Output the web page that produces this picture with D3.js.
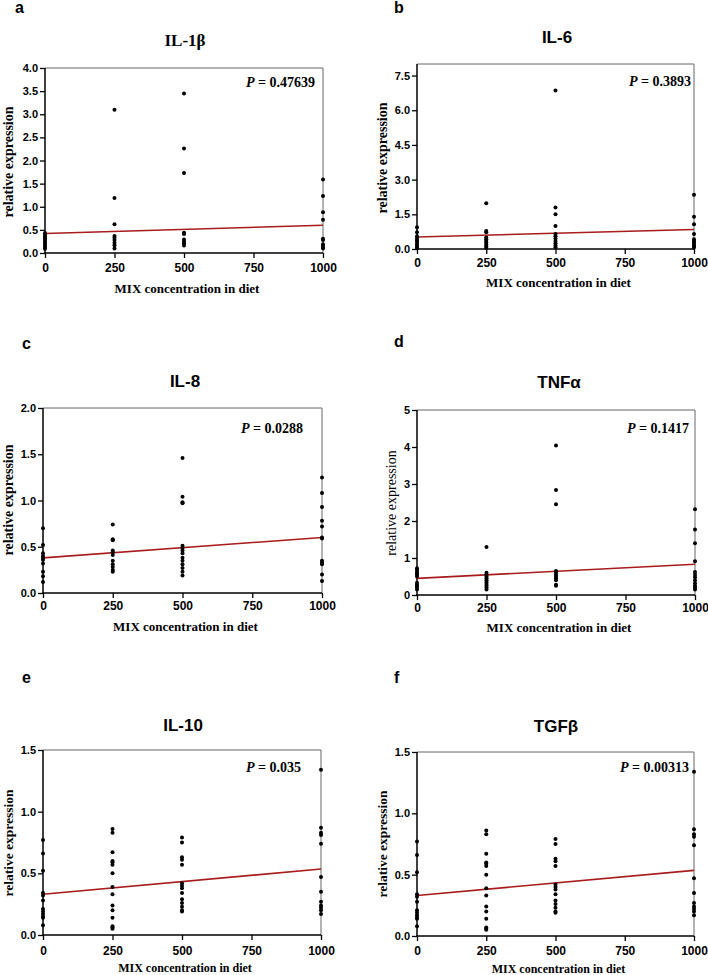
<!DOCTYPE html>
<html>
<head>
<meta charset="utf-8">
<script src="https://cdn.jsdelivr.net/npm/d3@7"></script>
<style>
  html, body { margin: 0; padding: 0; background: #fff; }
  svg { display: block; }
</style>
</head>
<body>
<svg id="chart" width="708" height="975"></svg>
<script>
// ---------------- DATA ----------------
const doses = [0, 250, 500, 1000];
const xTickValues = [0, 250, 500, 750, 1000];
const panelLetters = ["a", "b", "c", "d", "e", "f"];
const genes = ["IL-1β", "IL-6", "IL-8", "TNFα", "IL-10", "TGFβ"];
const pValues = ["0.47639", "0.3893", "0.0288", "0.1417", "0.035", "0.00313"];
const yMaxValues = [4, 8, 2, 5, 1.5, 1.5];
const yStepValues = [0.5, 1.5, 0.5, 1, 0.5, 0.5];
const yTickMaxValues = [4, 7.5, 2, 5, 1.5, 1.5];
// regression line values at dose 0 and dose 1000
const fitAt0 = [0.42, 0.52, 0.38, 0.45, 0.33, 0.33];
const fitAt1000 = [0.60, 0.84, 0.60, 0.83, 0.535, 0.535];

// relative expression per dose group (0, 250, 500, 1000)
const il1b = [
  [0.43, 0.40, 0.36, 0.32, 0.28, 0.24, 0.20, 0.16, 0.12, 0.09],
  [3.10, 1.19, 0.62, 0.37, 0.33, 0.28, 0.22, 0.17, 0.10],
  [3.45, 2.26, 1.73, 0.44, 0.41, 0.29, 0.25, 0.21, 0.16],
  [1.59, 1.23, 0.88, 0.72, 0.31, 0.28, 0.19, 0.15, 0.12, 0.10]
];
const il6 = [
  [0.94, 0.72, 0.55, 0.45, 0.38, 0.30, 0.22, 0.15, 0.08, 0.03],
  [1.98, 0.78, 0.72, 0.50, 0.42, 0.35, 0.28, 0.20, 0.12, 0.05],
  [6.85, 1.80, 1.50, 1.00, 0.65, 0.55, 0.45, 0.35, 0.25, 0.15, 0.08],
  [2.35, 1.40, 1.07, 0.65, 0.42, 0.35, 0.28, 0.20, 0.12, 0.06]
];
const il8 = [
  [0.70, 0.52, 0.43, 0.40, 0.38, 0.36, 0.32, 0.23, 0.18, 0.12],
  [0.74, 0.58, 0.57, 0.46, 0.44, 0.41, 0.35, 0.31, 0.28, 0.25, 0.23],
  [1.46, 1.04, 0.98, 0.97, 0.51, 0.49, 0.46, 0.43, 0.38, 0.35, 0.31, 0.27, 0.23, 0.19],
  [1.25, 1.08, 0.93, 0.78, 0.72, 0.60, 0.59, 0.35, 0.33, 0.31, 0.20, 0.13]
];
const tnfa = [
  [0.72, 0.68, 0.62, 0.58, 0.55, 0.50, 0.33, 0.28, 0.25, 0.20, 0.15],
  [1.30, 0.60, 0.55, 0.50, 0.45, 0.40, 0.35, 0.30, 0.25, 0.20, 0.15],
  [4.04, 2.84, 2.45, 0.65, 0.60, 0.55, 0.50, 0.45, 0.40, 0.28, 0.25],
  [2.32, 1.77, 1.40, 0.91, 0.62, 0.55, 0.48, 0.40, 0.32, 0.25, 0.20, 0.15]
];
const il10 = [
  [0.77, 0.66, 0.52, 0.34, 0.32, 0.28, 0.21, 0.19, 0.17, 0.15, 0.14, 0.08],
  [0.86, 0.83, 0.67, 0.60, 0.59, 0.57, 0.50, 0.39, 0.33, 0.24, 0.20, 0.14, 0.07, 0.06, 0.05],
  [0.79, 0.75, 0.63, 0.61, 0.57, 0.42, 0.40, 0.38, 0.34, 0.29, 0.26, 0.23, 0.20, 0.19],
  [1.34, 0.87, 0.83, 0.81, 0.74, 0.47, 0.35, 0.27, 0.24, 0.22, 0.20, 0.17]
];
const tgfb = [
  [0.77, 0.66, 0.52, 0.34, 0.32, 0.28, 0.21, 0.19, 0.17, 0.15, 0.14, 0.08],
  [0.86, 0.83, 0.67, 0.60, 0.59, 0.57, 0.50, 0.39, 0.33, 0.24, 0.20, 0.14, 0.07, 0.06, 0.05],
  [0.79, 0.75, 0.63, 0.61, 0.57, 0.42, 0.40, 0.38, 0.34, 0.29, 0.26, 0.23, 0.20, 0.19],
  [1.34, 0.87, 0.83, 0.81, 0.74, 0.47, 0.35, 0.27, 0.24, 0.22, 0.20, 0.17]
];
const seriesList = [il1b, il6, il8, tnfa, il10, tgfb];

// ---------------- LAYOUT (positions / styles) ----------------
const layout = [
  {L: 45, R: 323, T: 68, B: 253, titleX: 185, titleY: 46, titleSerif: true, letX: 15, letY: 13,
   xTickY: 272, xTitleY: 293, xTitleSize: 13, yTitleX: 13, yTitleY: 162, yTitleBold: true, yTitleSize: 14, pRight: 315, pY: 87, fmt: ".1f"},
  {L: 417, R: 694, T: 64, B: 249, titleX: 557, titleY: 43, titleSerif: false, letX: 394, letY: 13,
   xTickY: 267, xTitleY: 287, xTitleSize: 13, yTitleX: 387, yTitleY: 158, yTitleBold: true, yTitleSize: 14, pRight: 691, pY: 86, fmt: ".1f"},
  {L: 43, R: 322, T: 408, B: 593, titleX: 185, titleY: 387, titleSerif: false, letX: 22, letY: 349,
   xTickY: 610, xTitleY: 631, xTitleSize: 13, yTitleX: 13, yTitleY: 500, yTitleBold: true, yTitleSize: 14, pRight: 303, pY: 433, fmt: ".1f"},
  {L: 417, R: 695, T: 410, B: 595, titleX: 559, titleY: 388, titleSerif: false, letX: 394, letY: 347,
   xTickY: 612, xTitleY: 632, xTitleSize: 13, yTitleX: 396, yTitleY: 503, yTitleBold: false, yTitleSize: 14, pRight: 689, pY: 433, fmt: "d"},
  {L: 43, R: 321, T: 750, B: 935, titleX: 183, titleY: 731, titleSerif: false, letX: 22, letY: 683,
   xTickY: 955, xTitleY: 972, xTitleSize: 12, yTitleX: 13, yTitleY: 843, yTitleBold: true, yTitleSize: 13.5, pRight: 301, pY: 772, fmt: ".1f"},
  {L: 417, R: 694, T: 752, B: 936, titleX: 556, titleY: 732, titleSerif: false, letX: 394, letY: 683,
   xTickY: 955, xTitleY: 973, xTitleSize: 12, yTitleX: 387, yTitleY: 844, yTitleBold: true, yTitleSize: 13.5, pRight: 689, pY: 772, fmt: ".1f"}
];

const SANS = "'Liberation Sans', Arial, sans-serif";
const SERIF = "'Liberation Serif', 'Times New Roman', serif";
const RED = "#a81c1c";

const svg = d3.select("#chart");

layout.forEach((lo, i) => {
  const g = svg.append("g");
  const x = d3.scaleLinear().domain([0, 1000]).range([lo.L, lo.R]);
  const y = d3.scaleLinear().domain([0, yMaxValues[i]]).range([lo.B, lo.T]);
  const yTicks = d3.range(0, yTickMaxValues[i] + 1e-9, yStepValues[i]);

  // panel letter
  g.append("text").attr("x", lo.letX).attr("y", lo.letY)
    .attr("font-family", SANS).attr("font-weight", "bold").attr("font-size", 16)
    .text(panelLetters[i]);

  // title
  g.append("text").attr("x", lo.titleX).attr("y", lo.titleY).attr("text-anchor", "middle")
    .attr("font-family", lo.titleSerif ? SERIF : SANS).attr("font-weight", "bold").attr("font-size", 17)
    .text(genes[i]);

  // y axis ticks
  const ya = d3.axisLeft(y).tickValues(yTicks).tickSize(5).tickSizeOuter(0).tickPadding(2)
    .tickFormat(d3.format(lo.fmt));
  const yg = g.append("g").attr("transform", `translate(${lo.L},0)`).call(ya);
  yg.select(".domain").remove();
  yg.selectAll("line").attr("stroke", "#000").attr("stroke-width", 1.3);
  yg.selectAll("text").attr("font-family", SANS).attr("font-weight", "bold").attr("font-size", 11).attr("fill", "#000");

  // x axis ticks
  const xa = d3.axisBottom(x).tickValues(xTickValues).tickSize(5).tickSizeOuter(0).tickFormat(d3.format("d"));
  const xg = g.append("g").attr("transform", `translate(0,${lo.B})`).call(xa);
  xg.select(".domain").remove();
  xg.selectAll("line").attr("stroke", "#000").attr("stroke-width", 1.3);
  xg.selectAll("text").attr("font-family", SANS).attr("font-weight", "bold").attr("font-size", 12).attr("fill", "#000")
    .attr("dy", null).attr("y", lo.xTickY - lo.B);

  // frame: top & right gray thin, left & bottom black
  g.append("line").attr("x1", lo.L).attr("x2", lo.R).attr("y1", lo.T).attr("y2", lo.T)
    .attr("stroke", "#666").attr("stroke-width", 1);
  g.append("line").attr("x1", lo.R).attr("x2", lo.R).attr("y1", lo.T).attr("y2", lo.B)
    .attr("stroke", "#666").attr("stroke-width", 1);
  g.append("line").attr("x1", lo.L).attr("x2", lo.L).attr("y1", lo.T).attr("y2", lo.B + 0.7)
    .attr("stroke", "#000").attr("stroke-width", 1.5);
  g.append("line").attr("x1", lo.L - 0.7).attr("x2", lo.R).attr("y1", lo.B).attr("y2", lo.B)
    .attr("stroke", "#000").attr("stroke-width", 1.5);

  // regression line
  g.append("line")
    .attr("x1", x(0)).attr("y1", y(fitAt0[i]))
    .attr("x2", x(1000)).attr("y2", y(fitAt1000[i]))
    .attr("stroke", RED).attr("stroke-width", 1.6);

  // points
  const pts = [];
  seriesList[i].forEach((vals, k) => vals.forEach(v => pts.push({dose: doses[k], v})));
  g.append("g").selectAll("circle").data(pts).join("circle")
    .attr("cx", d => x(d.dose)).attr("cy", d => y(d.v)).attr("r", 2)
    .attr("fill", "#000");

  // P value
  const pt = g.append("text").attr("x", lo.pRight).attr("y", lo.pY).attr("text-anchor", "end")
    .attr("font-family", SERIF).attr("font-weight", "bold").attr("font-size", 14);
  pt.append("tspan").attr("font-style", "italic").text("P");
  pt.append("tspan").text(" = " + pValues[i]);

  // x axis title
  g.append("text").attr("x", (lo.L + lo.R) / 2 + 3).attr("y", lo.xTitleY).attr("text-anchor", "middle")
    .attr("font-family", SERIF).attr("font-weight", "bold").attr("font-size", lo.xTitleSize)
    .text("MIX concentration in diet");

  // y axis title
  g.append("text").attr("transform", `translate(${lo.yTitleX},${lo.yTitleY}) rotate(-90)`)
    .attr("text-anchor", "middle")
    .attr("font-family", SERIF).attr("font-weight", lo.yTitleBold ? "bold" : "normal").attr("font-size", lo.yTitleSize)
    .text("relative expression");
});
</script>
</body>
</html>
